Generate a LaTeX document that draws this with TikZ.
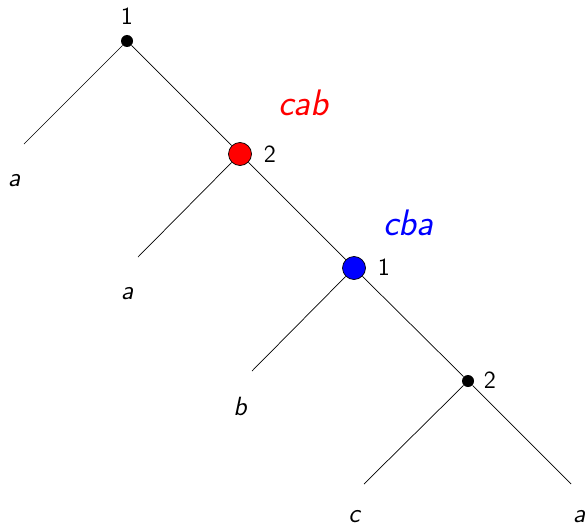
\documentclass[tikz,border=0pt]{standalone}
\usepackage{fontspec}
\usepackage{tikz}
\usetikzlibrary{positioning}

\tikzset{
  move/.style={circle, fill=black, inner sep=0pt, minimum size=12*0.02cm},
  bigmove/.style={circle, draw=black, inner sep=0pt, minimum size=23*0.02cm},
  lbl/.style={anchor=base, inner sep=0pt, font=\sffamily\fontsize{14}{16}\selectfont},
  leaf/.style={lbl, font=\sffamily\itshape\fontsize{15}{17}\selectfont},
  word/.style={anchor=base, inner sep=0pt, font=\sffamily\itshape\fontsize{21}{24}\selectfont}
}

\begin{document}
\begin{tikzpicture}[x=0.02cm, y=-0.02cm]
            \useasboundingbox (0,0) rectangle (587,527);
            % decision nodes down the main branch
            \node[move] (n1) at (127,41) {};
            \node[bigmove, fill=red] (n2) at (240,154) {};
            \node[bigmove, fill=blue] (n3) at (354,268) {};
            \node[move] (n4) at (468,381) {};
            % free ends of the short branches
            \coordinate (e1) at (24,144);
            \coordinate (e2) at (138,257);
            \coordinate (e3) at (252,371);
            \coordinate (e4) at (364,484);
            \coordinate (e5) at (571,484);
            \draw (n1) -- (n2) -- (n3) -- (n4) -- (e5);
            \foreach \a/\b in {n1/e1, n2/e2, n3/e3, n4/e4} {
                \draw (\a) -- (\b);
            }
            % player numbers
            \node[lbl] (p1) at (127,25) {1};
            \node[lbl] (p2) at (270,162) {2};
            \node[lbl] (p3) at (384,275) {1};
            \node[lbl] (p4) at (490,388) {2};
            % outcomes
            \node[leaf] (o1) at (14,186) {a};
            \node[leaf] (o2) at (127,299) {a};
            \node[leaf] (o3) at (240,415) {b};
            \node[leaf] (o4) at (354,522) {c};
            \node[leaf] (o5) at (579,522) {a};
            % strategy words
            \node[word, red] (w1) at (303,115) {cab};
            \node[word, blue] (w2) at (408,235) {cba};
        \end{tikzpicture}
\end{document}
